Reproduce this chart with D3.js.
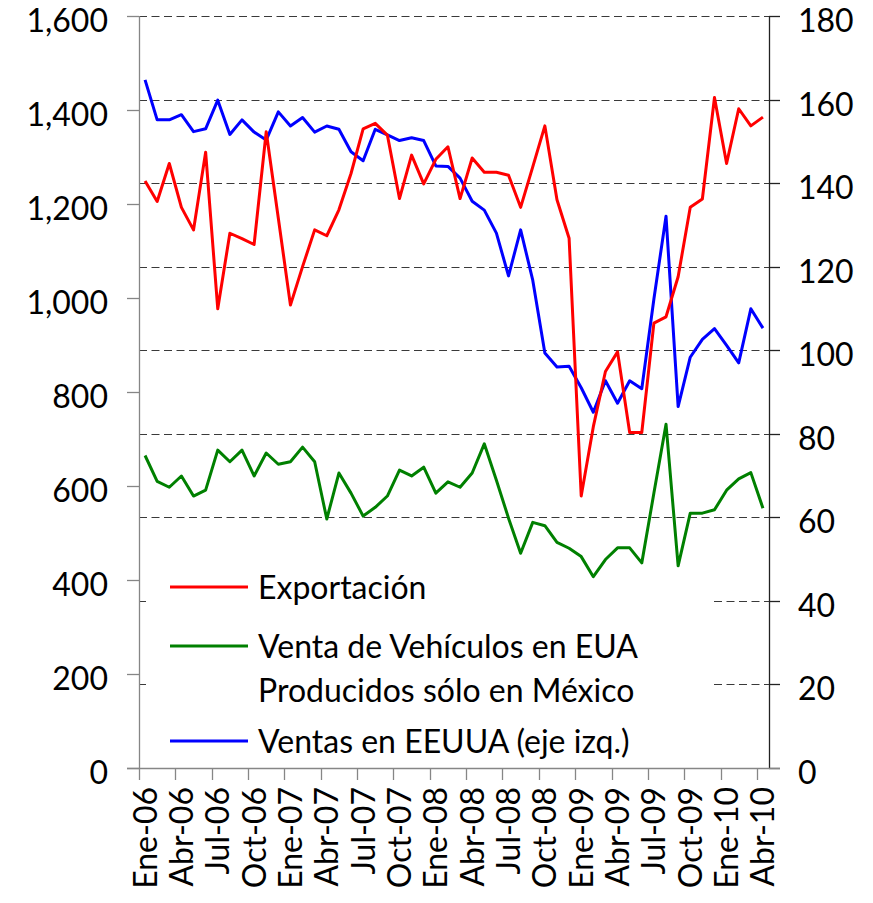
<!DOCTYPE html>
<html>
<head>
<meta charset="utf-8">
<script src="https://cdn.jsdelivr.net/npm/d3@7"></script>
<style>
  html, body { margin: 0; padding: 0; background: #ffffff; }
  svg text { font-family: Lato, "Open Sans", sans-serif; fill: #000; }
</style>
</head>
<body>
<svg id="chart" width="873" height="903"></svg>
<script>
// ---------------- data ----------------
const categories = [
  "Ene-06","Feb-06","Mar-06","Abr-06","May-06","Jun-06","Jul-06","Ago-06","Sep-06","Oct-06","Nov-06","Dic-06",
  "Ene-07","Feb-07","Mar-07","Abr-07","May-07","Jun-07","Jul-07","Ago-07","Sep-07","Oct-07","Nov-07","Dic-07",
  "Ene-08","Feb-08","Mar-08","Abr-08","May-08","Jun-08","Jul-08","Ago-08","Sep-08","Oct-08","Nov-08","Dic-08",
  "Ene-09","Feb-09","Mar-09","Abr-09","May-09","Jun-09","Jul-09","Ago-09","Sep-09","Oct-09","Nov-09","Dic-09",
  "Ene-10","Feb-10","Mar-10","Abr-10"
];
const tickLabels = ["Ene-06","Abr-06","Jul-06","Oct-06","Ene-07","Abr-07","Jul-07","Oct-07","Ene-08",
  "Abr-08","Jul-08","Oct-08","Ene-09","Abr-09","Jul-09","Oct-09","Ene-10","Abr-10"];

// Exportación (right axis, thousands)
const exportacion = [140.5,135.6,144.7,134.2,128.8,147.4,109.9,128.0,126.7,125.3,152.3,131.6,
  110.8,120.0,128.8,127.4,133.6,142.3,153.0,154.3,151.5,136.3,146.7,139.8,
  145.7,148.7,136.3,146.0,142.6,142.6,141.9,134.2,143.9,153.7,136.0,126.8,
  65.1,81.7,94.9,99.6,80.3,80.3,106.5,108.0,117.6,134.2,136.2,160.5,
  144.7,157.8,153.7,155.8];
// Venta de Vehículos en EUA Producidos sólo en México (right axis)
const ventaMexico = [74.8,68.6,67.2,69.9,65.1,66.5,76.1,73.3,76.1,69.9,75.4,72.7,
  73.3,76.8,73.3,59.6,70.6,65.8,60.3,62.4,65.1,71.3,69.9,72.0,
  65.8,68.5,67.2,70.6,77.6,68.9,59.8,51.4,58.8,58.0,54.0,52.6,
  50.6,45.8,49.9,52.7,52.7,49.1,65.8,82.3,48.4,61.0,61.0,61.8,
  66.5,69.2,70.7,62.2];
// Ventas en EEUUA (left axis)
const ventasEEUU = [1464,1379,1379,1390,1354,1360,1421,1348,1379,1353,1336,1396,
  1366,1384,1353,1366,1359,1311,1292,1359,1347,1335,1341,1335,
  1281,1280,1255,1206,1187,1138,1047,1145,1038,883,853,855,
  809,757,824,776,824,807,998,1174,769,874,912,935,
  899,862,977,936];

const leftTicks = [0,200,400,600,800,1000,1200,1400,1600];
const rightTicks = [0,20,40,60,80,100,120,140,160,180];
const gridValues = [20,40,60,80,100,120,140,160,180];

const legendItems = [
  {lines:["Exportación"], color:"#ff0000"},
  {lines:["Venta de Vehículos en EUA","Producidos sólo en México"], color:"#008000"},
  {lines:["Ventas en EEUUA (eje izq.)"], color:"#0000ff"}
];

// ---------------- layout ----------------
const L = 139, R = 769, T = 16, B = 768;
const svg = d3.select("#chart");

const x = d3.scaleBand().domain(categories).range([L, R]).padding(0);
const bw = x.bandwidth();
const yL = d3.scaleLinear().domain([0, 1600]).range([B, T]);
const yR = d3.scaleLinear().domain([0, 180]).range([B, T]);

// gridlines (dashed, from right axis)
svg.append("g").selectAll("line").data(gridValues).join("line")
  .attr("x1", L).attr("x2", R)
  .attr("y1", d => Math.round(yR(d)) + 0.5).attr("y2", d => Math.round(yR(d)) + 0.5)
  .attr("stroke", "#3a3a3a").attr("stroke-width", 1).attr("stroke-dasharray", "8,4.5");

// legend background
svg.append("rect").attr("x", 146).attr("y", 580).attr("width", 564).attr("height", 186).attr("fill", "#fff");

// left axis
const gl = svg.append("g");
gl.append("line").attr("x1", L + 0.5).attr("x2", L + 0.5).attr("y1", T).attr("y2", B)
  .attr("stroke", "#868686").attr("stroke-width", 1.3);
gl.selectAll("line.t").data(leftTicks).join("line").attr("class", "t")
  .attr("x1", L - 12).attr("x2", L)
  .attr("y1", d => Math.round(yL(d)) + 0.5).attr("y2", d => Math.round(yL(d)) + 0.5)
  .attr("stroke", "#868686").attr("stroke-width", 1.3);
gl.selectAll("text").data(leftTicks).join("text")
  .attr("x", 108).attr("y", d => yL(d)).attr("dy", "0.5em")
  .attr("text-anchor", "end").attr("font-size", 32)
  .text(d => d3.format(",")(d));

// right axis
const gr = svg.append("g");
gr.append("line").attr("x1", R + 0.5).attr("x2", R + 0.5).attr("y1", T).attr("y2", B)
  .attr("stroke", "#222").attr("stroke-width", 1.3);
gr.selectAll("line.t").data(rightTicks).join("line").attr("class", "t")
  .attr("x1", R).attr("x2", R + 11)
  .attr("y1", d => Math.round(yR(d)) + 0.5).attr("y2", d => Math.round(yR(d)) + 0.5)
  .attr("stroke", "#222").attr("stroke-width", 1.3);
gr.selectAll("text").data(rightTicks).join("text")
  .attr("x", 798).attr("y", d => yR(d)).attr("dy", "0.5em")
  .attr("text-anchor", "start").attr("font-size", 32)
  .text(d => d);

// x axis
const gx = svg.append("g");
gx.append("line").attr("x1", L - 12).attr("x2", R + 11).attr("y1", B + 0.5).attr("y2", B + 0.5)
  .attr("stroke", "#868686").attr("stroke-width", 1.3);
gx.selectAll("line.t").data(tickLabels).join("line").attr("class", "t")
  .attr("x1", d => Math.round(x(d)) + 0.5).attr("x2", d => Math.round(x(d)) + 0.5)
  .attr("y1", B).attr("y2", B + 12)
  .attr("stroke", "#868686").attr("stroke-width", 1.3);
gx.selectAll("text").data(tickLabels).join("text")
  .attr("transform", d => `translate(${x(d) + bw / 2},787) rotate(-90)`)
  .attr("dy", "0.36em").attr("text-anchor", "end").attr("font-size", 32)
  .text(d => d);

// series
const lineL = d3.line().x((d, i) => x(categories[i]) + bw / 2).y(d => yL(d));
const lineR = d3.line().x((d, i) => x(categories[i]) + bw / 2).y(d => yR(d));

svg.append("path").datum(ventaMexico).attr("d", lineR)
  .attr("fill", "none").attr("stroke", "#008000").attr("stroke-width", 3).attr("stroke-linejoin", "round");
svg.append("path").datum(ventasEEUU).attr("d", lineL)
  .attr("fill", "none").attr("stroke", "#0000ff").attr("stroke-width", 3).attr("stroke-linejoin", "round");
svg.append("path").datum(exportacion).attr("d", lineR)
  .attr("fill", "none").attr("stroke", "#ff0000").attr("stroke-width", 3).attr("stroke-linejoin", "round");

// legend
const legendRows = [587, 646, 741];
const lg = svg.append("g");
legendItems.forEach((item, k) => {
  const y0 = legendRows[k];
  lg.append("line").attr("x1", 170).attr("x2", 248).attr("y1", y0).attr("y2", y0)
    .attr("stroke", item.color).attr("stroke-width", 3);
  item.lines.forEach((t, j) => {
    lg.append("text").attr("x", 258).attr("y", y0 + j * 44).attr("dy", "0.36em")
      .attr("font-size", 32).text(t);
  });
});
</script>
</body>
</html>
